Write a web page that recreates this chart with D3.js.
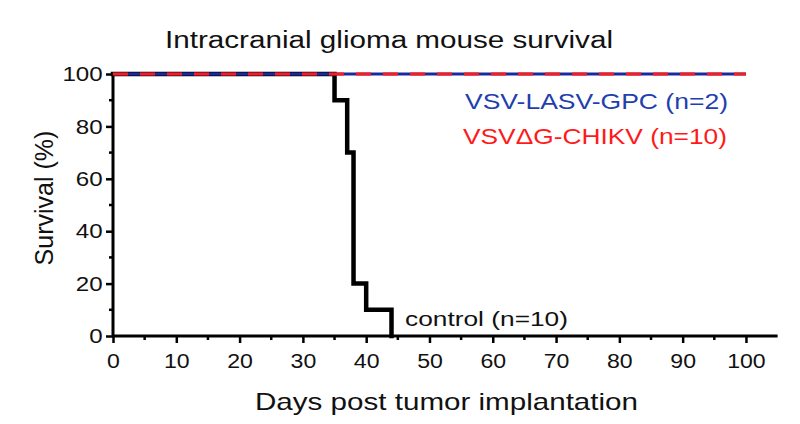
<!DOCTYPE html>
<html>
<head>
<meta charset="utf-8">
<script src="https://cdn.jsdelivr.net/npm/d3@7"></script>
<style>
  body { margin: 0; background: #fff; }
  svg { display: block; font-family: "Liberation Sans", Arial, sans-serif; }
</style>
</head>
<body>
<svg id="chart" width="800" height="424"></svg>
<script>
// ---- data ----
const controlDays     = [0, 35, 37, 38, 40, 44];
const controlSurvival = [100, 90, 70, 20, 10, 0];
const lasvDays        = [0, 100];
const lasvSurvival    = [100, 100];
const chikvDays       = [0, 100];
const chikvSurvival   = [100, 100];
const xTickValues     = [0, 10, 20, 30, 40, 50, 60, 70, 80, 90, 100];
const yTickValues     = [0, 20, 40, 60, 80, 100];
const titleText  = "Intracranial glioma mouse survival";
const xLabelText = "Days post tumor implantation";
const yLabelText = "Survival (%)";
const legendLabels = ["VSV-LASV-GPC (n=2)", "VSVΔG-CHIKV (n=10)"];
const controlLabel = "control (n=10)";

// ---- layout ----
const svg = d3.select("#chart");
const x = d3.scaleLinear().domain([0, 105]).range([113, 777.6]);
const y = d3.scaleLinear().domain([0, 100]).range([336, 74]);

function stepPoints(days, surv) {
  const pts = [];
  for (let i = 0; i < days.length; i++) {
    if (i > 0) pts.push([days[i], surv[i - 1]]);
    pts.push([days[i], surv[i]]);
  }
  return pts;
}
const line = d3.line().x(d => x(d[0])).y(d => y(d[1]));

function stretchedText(px, py, txt, size, width, color, anchor) {
  return svg.append("text").attr("x", px).attr("y", py)
    .attr("font-size", size).attr("fill", color || "#111")
    .attr("text-anchor", anchor || "start")
    .attr("textLength", width).attr("lengthAdjust", "spacingAndGlyphs")
    .text(txt);
}

// title
stretchedText(165, 48, titleText, 23.5, 448);

// axes
const xAxis = svg.append("g").attr("transform", `translate(0,${y(0)})`)
  .call(d3.axisBottom(x).tickValues(xTickValues).tickSize(7).tickPadding(10).tickFormat(d3.format("d")));
const yAxis = svg.append("g").attr("transform", `translate(${x(0)},0)`)
  .call(d3.axisLeft(y).tickValues(yTickValues).tickSize(7).tickPadding(2).tickFormat(d3.format("d")));
[xAxis, yAxis].forEach(g => {
  g.select(".domain").attr("stroke", "#000").attr("stroke-width", 3);
  g.selectAll(".tick line").attr("stroke", "#000").attr("stroke-width", 2.5);
  g.selectAll(".tick text").attr("font-size", 21).attr("fill", "#111")
    .attr("font-family", "Liberation Sans, Arial, sans-serif");
});
xAxis.selectAll(".tick text").attr("dy", "0.72em").attr("transform", "scale(1.1,1)");
yAxis.selectAll(".tick text").attr("transform", "scale(1.15,1)");
xAxis.select(".domain").attr("d", `M${x(0)},0H${x(105)}`);
yAxis.select(".domain").attr("d", `M0,${y(100) - 1}V${y(0)}`);

// minor ticks
const xMinor = d3.range(5, 100, 10);
const yMinor = d3.range(10, 100, 20);
svg.append("g").selectAll("line").data(xMinor).join("line")
  .attr("x1", d => x(d)).attr("x2", d => x(d))
  .attr("y1", y(0)).attr("y2", y(0) + 4).attr("stroke", "#000").attr("stroke-width", 2.5);
svg.append("g").selectAll("line").data(yMinor).join("line")
  .attr("y1", d => y(d)).attr("y2", d => y(d))
  .attr("x1", x(0)).attr("x2", x(0) - 4).attr("stroke", "#000").attr("stroke-width", 2.5);

// axis labels
stretchedText(255, 410, xLabelText, 24, 383);
svg.append("text").attr("transform", "translate(53,198) rotate(-90)")
  .attr("text-anchor", "middle").attr("font-size", 25).attr("fill", "#111").text(yLabelText);

// control curve
svg.append("path").datum(stepPoints(controlDays, controlSurvival))
  .attr("d", line).attr("fill", "none").attr("stroke", "#000")
  .attr("stroke-width", 4.5).attr("stroke-linejoin", "miter").attr("stroke-linecap", "square");

// treated curves (overlapping dashed)
svg.append("path").datum(stepPoints(lasvDays, lasvSurvival))
  .attr("d", line).attr("fill", "none").attr("stroke", "#1a2a9c").attr("stroke-width", 3);
svg.append("path").datum(stepPoints(chikvDays, chikvSurvival))
  .attr("d", line).attr("fill", "none").attr("stroke", "#ff1a1a").attr("stroke-width", 3)
  .attr("stroke-dasharray", "15,12");

// legend labels
stretchedText(465, 108.5, legendLabels[0], 22, 263, "#1f3fae");
stretchedText(463, 143.5, legendLabels[1], 22, 264, "#ff1a1a");
stretchedText(405, 326, controlLabel, 21, 163, "#111");
</script>
</body>
</html>
